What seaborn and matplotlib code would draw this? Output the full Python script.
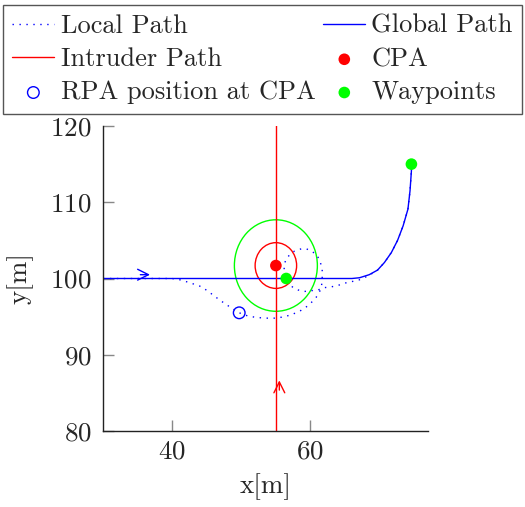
import matplotlib
matplotlib.use("Agg")
import matplotlib.pyplot as plt
from matplotlib.patches import Circle
import seaborn as sns

# ------------------------------------------------------------------
# Data
# ------------------------------------------------------------------

local_x = [30, 35, 40, 41.3, 42.7, 44.0, 45.1, 46.1, 47.0, 47.8, 48.8, 49.7,
           50.9, 52.1, 53.5, 55.0, 56.3, 57.4, 58.6, 59.6, 60.3, 60.8, 61.3,
           61.6, 61.7, 61.7, 61.7, 61.5, 61.3, 60.8, 60.1, 59.4, 58.7, 57.7,
           57.0, 56.5, 56.2, 56.2, 56.5, 56.9, 57.5, 58.2, 59.1, 60.1, 61.1,
           62.0, 63.0, 64.0, 65.0, 66.0, 67.0, 68.0, 69.0, 69.7, 70.7, 71.7,
           72.6, 73.4, 74.1, 74.4, 74.6, 74.6]
local_y = [100, 100, 100, 99.8, 99.4, 99.0, 98.4, 97.7, 97.1, 96.6, 96.0, 95.5,
           95.1, 94.9, 94.8, 94.8, 95.0, 95.3, 95.8, 96.4, 97.0, 97.5, 98.2,
           99.0, 99.9, 100.6, 101.2, 101.9, 102.5, 103.2, 103.6, 103.9, 103.9,
           103.6, 103.1, 102.6, 101.8, 101.0, 100.0, 99.3, 98.8, 98.5, 98.3,
           98.4, 98.5, 98.8, 98.9, 99.1, 99.4, 99.6, 99.8, 100.2, 100.7, 101.1,
           102.1, 103.4, 105.0, 106.9, 109.1, 111.5, 114.1, 115.0]

global_x = [30, 66, 67.1, 68.5, 69.7, 70.7, 71.7, 72.6, 73.4, 74.1, 74.4, 74.6, 74.6]
global_y = [100, 100, 100.1, 100.5, 101.1, 102.1, 103.4, 105.0, 106.9, 109.1, 111.5, 114.1, 115.0]

intruder_x = [55, 55]
intruder_y = [78, 122]

cpa_x = [55]
cpa_y = [101.7]

rpa_x = [49.7]
rpa_y = [95.5]

waypoint_x = [56.5, 74.6]
waypoint_y = [100, 115.0]

# safety circles around the CPA (radius in m)
circle_radii = [3, 6]
circle_colors = ["red", "#00ff00"]

# direction arrows (tail, head)
blue_arrow = [(35.0, 100.5), (37.2, 100.5)]
red_arrow = [(55.5, 85.0), (55.5, 87.0)]

GREEN = "#00ff00"
FS = 19.5

# ------------------------------------------------------------------
# Style
# ------------------------------------------------------------------

sns.set_style("ticks")
plt.rcParams["font.family"] = ["cmr10", "DejaVu Serif"]
plt.rcParams["mathtext.fontset"] = "cm"
plt.rcParams["axes.formatter.use_mathtext"] = True
plt.rcParams["font.size"] = FS

fig = plt.figure(figsize=(5.25, 5.07), dpi=100)
ax = fig.add_axes([103 / 525, 1 - 431 / 507, 325 / 525, 305 / 507])

# ------------------------------------------------------------------
# Paths
# ------------------------------------------------------------------

sns.lineplot(x=local_x, y=local_y, ax=ax, sort=False, estimator=None,
             color="blue", linewidth=1.0, linestyle=(0, (1, 4)),
             label="Local Path")
sns.lineplot(x=global_x, y=global_y, ax=ax, sort=False, estimator=None,
             color="blue", linewidth=1.0, label="Global Path")
sns.lineplot(x=intruder_x, y=intruder_y, ax=ax, sort=False, estimator=None,
             color="red", linewidth=1.0, label="Intruder Path")

for r, c in zip(circle_radii, circle_colors):
    ax.add_patch(Circle((cpa_x[0], cpa_y[0]), r, fill=False,
                        edgecolor=c, linewidth=1.0))

sns.scatterplot(x=cpa_x, y=cpa_y, ax=ax, color="red", s=70,
                edgecolor="none", label="CPA", zorder=5)
sns.scatterplot(x=rpa_x, y=rpa_y, ax=ax, facecolor="none", s=70,
                edgecolor="blue", linewidth=1.0,
                label="RPA position at CPA", zorder=5)
sns.scatterplot(x=waypoint_x, y=waypoint_y, ax=ax, color=GREEN, s=70,
                edgecolor="none", label="Waypoints", zorder=5)

ax.annotate("", xy=blue_arrow[1], xytext=blue_arrow[0],
            arrowprops=dict(arrowstyle="->", color="blue", lw=1.0))
ax.annotate("", xy=red_arrow[1], xytext=red_arrow[0],
            arrowprops=dict(arrowstyle="->", color="red", lw=1.0))

# ------------------------------------------------------------------
# Axes
# ------------------------------------------------------------------

ax.set_xlim(30, 77)
ax.set_ylim(80, 120)
ax.set_xticks([40, 60])
ax.set_yticks([80, 90, 100, 110, 120])
ax.set_xlabel("x[m]", fontsize=FS, labelpad=7)
ax.set_ylabel("y[m]", fontsize=FS, labelpad=12)

sns.despine(ax=ax)
for side in ["left", "bottom"]:
    ax.spines[side].set_color("#222222")
    ax.spines[side].set_linewidth(1.0)
ax.tick_params(direction="in", length=8, width=1.0, color="#888888",
               labelsize=FS)
ax.tick_params(axis="x", pad=6)
ax.tick_params(axis="y", pad=8)

# ------------------------------------------------------------------
# Legend
# ------------------------------------------------------------------

handles, labels = ax.get_legend_handles_labels()
ax.get_legend().remove()
order = ["Local Path", "Intruder Path", "RPA position at CPA",
         "Global Path", "CPA", "Waypoints"]
lookup = dict(zip(labels, handles))
leg = fig.legend([lookup[k] for k in order], order, ncol=2,
                 loc="upper left", bbox_to_anchor=(3 / 525, 1 - 5 / 507),
                 fontsize=19, frameon=True, fancybox=False,
                 edgecolor="#555555", framealpha=1,
                 handlelength=1.6, handletextpad=0.23, columnspacing=0.3,
                 labelspacing=0.36, borderpad=0.35, borderaxespad=0)
leg.get_frame().set_linewidth(1.0)

plt.savefig("out.png", dpi=100)
plt.close()
